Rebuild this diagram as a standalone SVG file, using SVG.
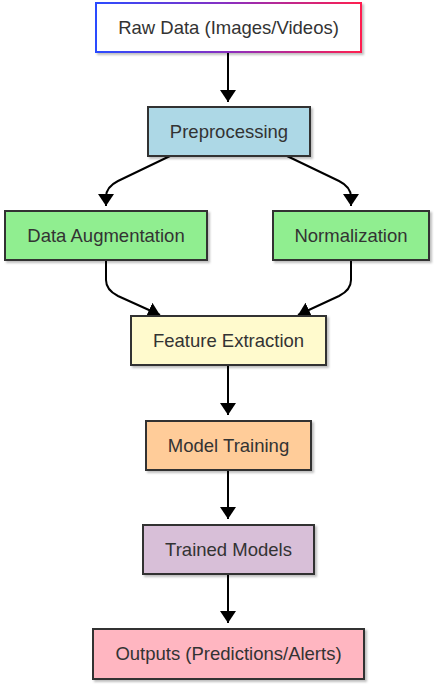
<svg xmlns="http://www.w3.org/2000/svg" width="434" height="685" viewBox="0 0 434 685">
  <style>
    .box { stroke: #333333; stroke-width: 2; filter: url(#shadow); }
    .lbl { font-family: "Liberation Sans", Arial, sans-serif; font-size: 18.5px; fill: #333333; text-anchor: middle; }
    .edge { fill: none; stroke: #000000; stroke-width: 2; marker-end: url(#arrow); }
  </style>
  <defs>
    <linearGradient id="rawGrad" x1="0" y1="0" x2="1" y2="0">
      <stop offset="0" stop-color="#2a4bff"/>
      <stop offset="0.5" stop-color="#8a2fc0"/>
      <stop offset="1" stop-color="#ff1f4f"/>
    </linearGradient>
    <filter id="shadow" x="-10%" y="-10%" width="130%" height="140%">
      <feDropShadow dx="2" dy="2" stdDeviation="1" flood-color="#000000" flood-opacity="0.25"/>
    </filter>
    <marker id="arrow" markerUnits="userSpaceOnUse" markerWidth="12" markerHeight="16" viewBox="0 0 12 16" refX="12" refY="8" orient="auto">
      <path d="M0,0 L12,8 L0,16 Z" fill="#000000"/>
    </marker>
  </defs>

  <g id="connectors">
    <path class="edge" d="M228,52 L228,102"/>
    <path class="edge" d="M170,156 L118,181 Q106,187 106,197 L106,206"/>
    <path class="edge" d="M287,156 L339,181 Q351,187 351,197 L351,206"/>
    <path class="edge" d="M106,261 L106,280 Q106,290 118,296 L160,315"/>
    <path class="edge" d="M351,261 L351,280 Q351,290 339,296 L298,315"/>
    <path class="edge" d="M228,365 L228,415"/>
    <path class="edge" d="M228,470 L228,519"/>
    <path class="edge" d="M228,574 L228,623"/>
  </g>

  <g id="raw-data">
    <rect x="96" y="3" width="265" height="49" fill="#ffffff" stroke="url(#rawGrad)" stroke-width="2" filter="url(#shadow)"/>
    <text class="lbl" x="228.5" y="33.5">Raw Data (Images/Videos)</text>
  </g>
  <g id="preprocessing">
    <rect class="box" x="148" y="107" width="162" height="49" fill="#add8e6"/>
    <text class="lbl" x="229" y="137.5">Preprocessing</text>
  </g>
  <g id="data-augmentation">
    <rect class="box" x="5" y="211" width="202" height="49" fill="#90ee90"/>
    <text class="lbl" x="106" y="242">Data Augmentation</text>
  </g>
  <g id="normalization">
    <rect class="box" x="273" y="211" width="156" height="49" fill="#90ee90"/>
    <text class="lbl" x="351" y="242">Normalization</text>
  </g>
  <g id="feature-extraction">
    <rect class="box" x="131" y="316" width="195" height="49" fill="#fffacd"/>
    <text class="lbl" x="228.5" y="346.5">Feature Extraction</text>
  </g>
  <g id="model-training">
    <rect class="box" x="146" y="421" width="165" height="49" fill="#ffcc99"/>
    <text class="lbl" x="228.5" y="451.5">Model Training</text>
  </g>
  <g id="trained-models">
    <rect class="box" x="143" y="525" width="171" height="49" fill="#d8bfd8"/>
    <text class="lbl" x="228.5" y="555.5">Trained Models</text>
  </g>
  <g id="outputs">
    <rect class="box" x="93" y="629" width="271" height="50" fill="#ffb6c1"/>
    <text class="lbl" x="228.5" y="660">Outputs (Predictions/Alerts)</text>
  </g>
</svg>
